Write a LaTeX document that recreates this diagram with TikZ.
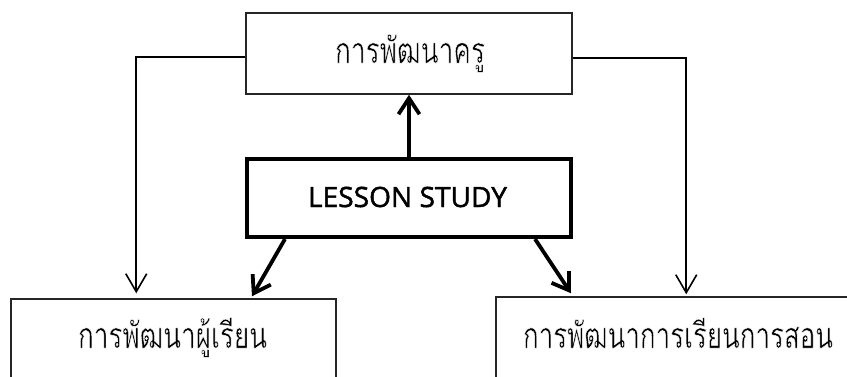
\documentclass[tikz,border=0pt]{standalone}
\usepackage{fontspec}
\usepackage{graphicx}
\setmainfont{Open Sans}
\newfontfamily\thaifont[Script=Thai]{Loma}
\usetikzlibrary{arrows.meta,calc}
\newcommand{\thinglyph}[1]{\special{pdf:literal direct q 2 Tr 1 1 1 RG 0.5 w}#1\special{pdf:literal direct Q}}
\newcommand{\heavyglyph}[1]{\special{pdf:literal direct q 2 Tr 0 0 0 RG 0.45 w}#1\special{pdf:literal direct Q}}
\newcommand{\fitw}[2]{\resizebox{#1}{\height}{#2}}
\tikzset{
  thinbox/.style={draw=black!85, line width=1.5pt, rectangle, inner sep=0pt},
  thickbox/.style={draw=black, line width=4pt, rectangle, inner sep=0pt},
  thtext/.style={inner sep=0pt, anchor=base, font=\thaifont\fontsize{36}{40}\selectfont},
  entext/.style={inner sep=0pt, anchor=base, font=\fontsize{28}{32}\selectfont},
  thinarrow/.style={line width=1.6pt, -{Straight Barb[length=18pt,width=21pt]}},
  thickarrow/.style={line width=3.8pt, -{Straight Barb[length=16pt,width=21pt]}}
}
\begin{document}
\begin{tikzpicture}[x=1pt,y=-1pt]
\useasboundingbox (0,0) rectangle (847,376);
\clip (0,0) rectangle (847,376);
\node[thinbox, minimum width=326pt, minimum height=81pt] (top) at (409,53.5) {};
\node[thickbox, minimum width=324pt, minimum height=78pt] (mid) at (409,198) {};
\node[thinbox, minimum width=325pt, minimum height=80pt] (lbox) at (173.5,339) {};
\node[thinbox, minimum width=356pt, minimum height=82pt] (rbox) at (674,338) {};
\node[thtext] (toptxt) at (410,63) {\fitw{150pt}{\thinglyph{การพัฒนาครู}}};
\node[entext] (midtxt) at (407.5,207) {\fitw{199pt}{\heavyglyph{LESSON STUDY}}};
\node[thtext] (ltxt) at (172.5,348) {\fitw{189pt}{\thinglyph{การพัฒนาผู้เรียน}}};
\node[thtext] (rtxt) at (678,348) {\fitw{310pt}{\thinglyph{การพัฒนาการเรียนการสอน}}};
\draw[thickarrow] (mid.north) -- (top.south);
\draw[thickarrow] ([xshift=-124pt]mid.south) -- ([xshift=78.5pt,yshift=2pt]lbox.north);
\draw[thickarrow] ([xshift=126pt]mid.south) -- ([xshift=-103pt,yshift=3pt]rbox.north);
\draw[thinarrow] ([yshift=-3.5pt]top.west) -| ([xshift=126pt,yshift=5pt]lbox.north west);
\draw[thinarrow] ([yshift=-4.5pt]top.east) -| ([xshift=191pt,yshift=2pt]rbox.north west);
\end{tikzpicture}
\end{document}
